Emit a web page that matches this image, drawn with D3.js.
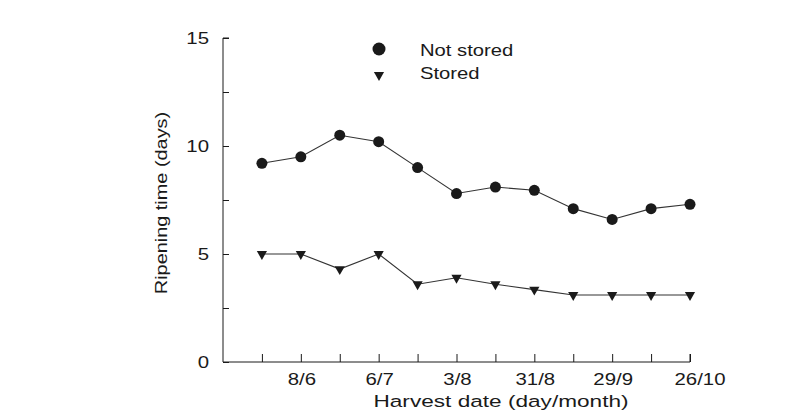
<!DOCTYPE html>
<html>
<head>
<meta charset="utf-8">
<script src="https://cdn.jsdelivr.net/npm/d3@7"></script>
<style>
  body { margin: 0; background: #fff; }
  svg { font-family: "Liberation Sans", Arial, sans-serif; }
</style>
</head>
<body>
<svg width="803" height="415"></svg>
<script>
// harvest dates, fortnightly
const harvestDates = ['25/5', '8/6', '22/6', '6/7', '20/7', '3/8', '17/8', '31/8', '14/9', '29/9', '12/10', '26/10'];
const labelledDates = ['8/6', '6/7', '3/8', '31/8', '29/9', '26/10'];
const notStored = [9.2, 9.5, 10.5, 10.2, 9.0, 7.8, 8.1, 7.95, 7.1, 6.6, 7.1, 7.3];
const stored = [5.0, 5.0, 4.3, 5.0, 3.6, 3.9, 3.6, 3.35, 3.1, 3.1, 3.1, 3.1];
const yTicks = [0, 5, 10, 15];
const yMinor = [2.5, 7.5, 12.5];

const ink = '#1a1a1a';
const svg = d3.select('svg');

let x = d3.scaleLinear().domain([-1, 11]).range([223, 690]);
let y = d3.scaleLinear().domain([0, 15]).range([362, 38]);

// the scanned lettering is wider than Arial, so stretch it a bit
function label(g, tx, ty, txt, size, anchor, stretch) {
  return g.append('text')
    .attr('transform', `translate(${tx},${ty}) scale(${stretch},1)`)
    .attr('text-anchor', anchor).attr('font-size', size).attr('fill', ink)
    .text(txt);
}

// y axis
let yAxis = svg.append('g').attr('transform', 'translate(223,0)')
  .call(d3.axisRight(y).tickValues(yTicks.concat(yMinor)).tickSize(6).tickFormat(''));
yAxis.select('.domain').attr('d', 'M6,38H0V362').attr('stroke', ink);
yAxis.selectAll('.tick line').attr('stroke', ink);

let yLab = svg.append('g');
yTicks.forEach(d => label(yLab, 209, y(d) + 6, d, 17, 'end', 1.2));

// x axis
let xAxis = svg.append('g').attr('transform', 'translate(0,362)')
  .call(d3.axisTop(x).tickValues(d3.range(harvestDates.length)).tickSize(8).tickFormat(''));
xAxis.select('.domain').attr('d', 'M223,0H' + x(11) + 'V-8').attr('stroke', ink);
xAxis.selectAll('.tick line').attr('stroke', ink);

let xLab = svg.append('g');
labelledDates.forEach(d => {
  let i = harvestDates.indexOf(d);
  label(xLab, x(i) + (d === '26/10' ? 10 : 1), 385, d, 17, 'middle', 1.2);
});

// titles
label(svg, 501, 407, 'Harvest date (day/month)', 17, 'middle', 1.33);
svg.append('text').attr('transform', 'translate(167,203) rotate(-90) scale(1.17,1)')
  .attr('text-anchor', 'middle').attr('font-size', 17).attr('fill', ink)
  .text('Ripening time (days)');

// lines
let line = d3.line().x((d, i) => x(i)).y(d => y(d));
[notStored, stored].forEach(s => {
  svg.append('path').attr('d', line(s)).attr('fill', 'none')
    .attr('stroke', '#333').attr('stroke-width', 1.1);
});

// markers
let tri = d3.symbol().type(d3.symbolTriangle).size(45);
svg.append('g').selectAll('circle').data(notStored).join('circle')
  .attr('cx', (d, i) => x(i)).attr('cy', d => y(d)).attr('r', 5.5).attr('fill', ink);
svg.append('g').selectAll('path').data(stored).join('path')
  .attr('d', tri)
  .attr('transform', (d, i) => `translate(${x(i)},${y(d)}) rotate(180)`)
  .attr('fill', ink);

// legend
let legend = svg.append('g');
legend.append('circle').attr('cx', 379).attr('cy', 49).attr('r', 6.5).attr('fill', ink);
legend.append('path').attr('d', tri).attr('transform', 'translate(379,75) rotate(180)').attr('fill', ink);
label(legend, 420, 56, 'Not stored', 17, 'start', 1.19);
label(legend, 420, 79, 'Stored', 17, 'start', 1.19);
</script>
</body>
</html>
